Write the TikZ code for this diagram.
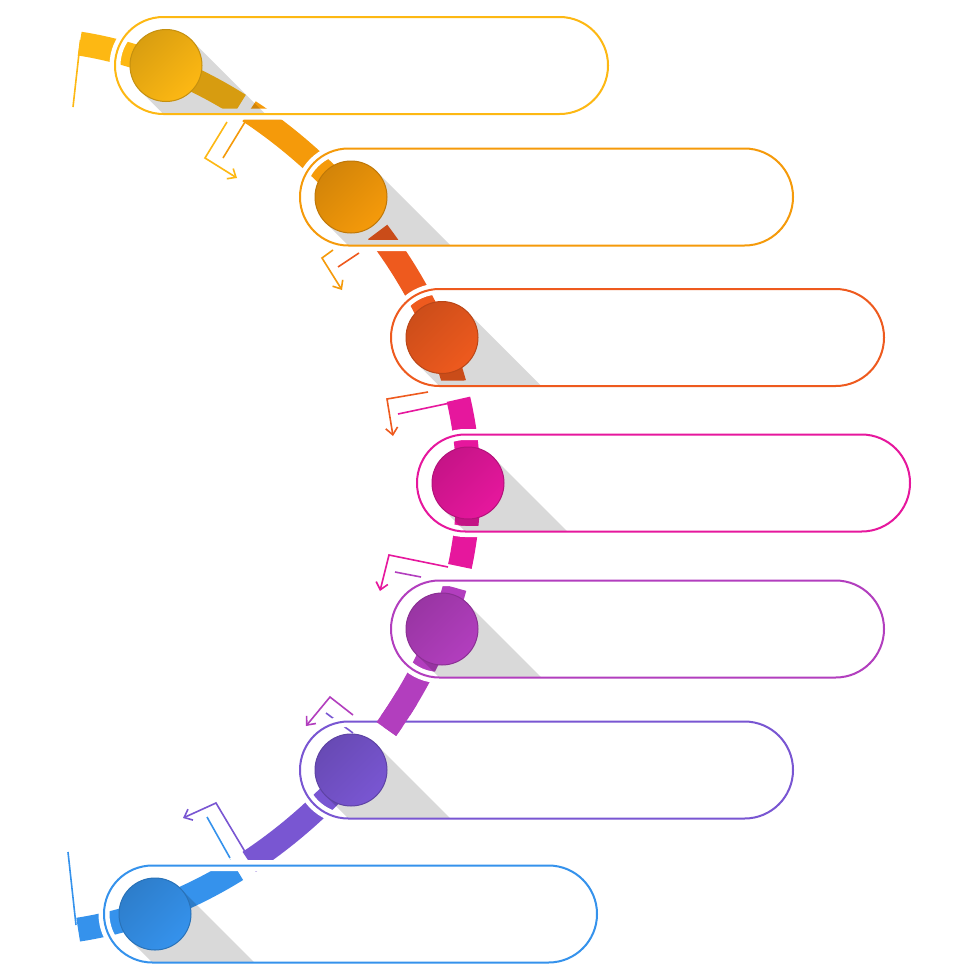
\documentclass[tikz,border=0pt]{standalone}
\usetikzlibrary{arrows.meta}
\definecolor{tone1}{HTML}{FDB813}
\definecolor{tone2}{HTML}{F59A0A}
\definecolor{tone3}{HTML}{EE5A1E}
\definecolor{tone4}{HTML}{E6179D}
\definecolor{tone5}{HTML}{B23EBE}
\definecolor{tone6}{HTML}{7956D2}
\definecolor{tone7}{HTML}{3592EC}
\pgfmathdeclarefunction{bandrad}{1}{\pgfmathparse{447.5-10.5*sin(2*#1)^2-3*sin(#1)}}
\tikzset{
  band/.style={line width=12pt},
  pill/.style={rounded corners=24.2pt},
  dot/.style={circle, minimum size=36pt, inner sep=0pt, draw=#1!78!black, line width=0.5pt,
    top color=#1!86!black, bottom color=#1, shading angle=45},
  hint/.style={line width=0.8pt}
}
\begin{document}
\begin{tikzpicture}[x=0.5pt, y=-0.5pt, >={Straight Barb[length=3.5pt,width=6pt]}]
        %% Page
        \path[use as bounding box, fill=white] (0,0) rectangle (980,980);
        %% Band
        \foreach \tone/\a/\b in {tone1/82.4/60, tone2/58.5/36.6, tone3/35.2/13, tone4/10.9/-10.7, tone5/-13.5/-33.9, tone6/-37/-58.9, tone7/-60.8/-82.7}
            \draw[band, \tone] plot[domain=\a:\b, samples=30] ({21+bandrad(\x)*cos(\x)}, {483.5-bandrad(\x)*sin(\x)});
        %% Flags
        \draw[hint, tone1] (80.5,40) -- (73,107);
        \draw[hint, tone7] (68,852) -- (76,925);
        %% Hints
        \draw[hint, tone1, ->] (227,122) -- (205,158) -- (237,178);
        \draw[hint, tone2] (245,122) -- (223,158);
        \draw[hint, tone2, ->] (333,250) -- (322,258) -- (342,290);
        \draw[hint, tone3] (338,267) -- (359,253);
        \draw[hint, tone3, ->] (428,392) -- (387,399) -- (393,436);
        \draw[hint, tone4] (398,414) -- (450,403);
        \draw[hint, tone4, ->] (448,567) -- (389,555) -- (380,591);
        \draw[hint, tone5] (395,572) -- (421,577);
        \draw[hint, tone5, ->] (353,715) -- (330,697) -- (306,726);
        \draw[hint, tone6] (326,713) -- (353,733);
        \draw[hint, tone6, ->] (247,855) -- (216,803) -- (183,818);
        \draw[hint, tone7] (207,817) -- (230,858);
        %% Pills
        \foreach \i/\l/\y in {1/115/65.5, 2/300/197, 3/391/337.5, 4/417/483, 5/391/629, 6/300/770, 7/104/914} {
            \draw[pill, white, line width=5.5pt] (\l,\y-48.5) rectangle ++(493,97);
            \begin{scope}
                \clip[pill] (\l,\y-48.5) rectangle ++(493,97);
                \fill[black, opacity=0.15] (\l+76.5,\y-25.5) -- ++(160,160) -- ++(-51,51) -- (\l+25.5,\y+25.5) -- cycle;
            \end{scope}
            \draw[pill, tone\i, line width=1pt] (\l,\y-48.5) rectangle ++(493,97);
            \node[dot=tone\i] (dot\i) at (\l+51,\y) {};
        }
        %% Purple over the sixth pill
        \draw[band, tone5] plot[domain=-29:-33.9, samples=10] ({21+bandrad(\x)*cos(\x)}, {483.5-bandrad(\x)*sin(\x)});
\end{tikzpicture}
\end{document}
